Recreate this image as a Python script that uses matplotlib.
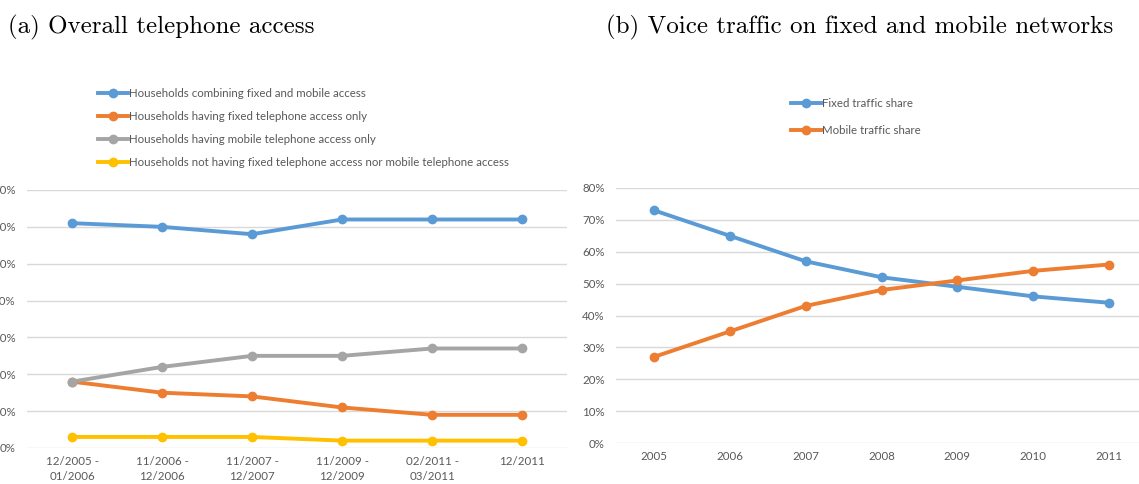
import matplotlib
matplotlib.use("Agg")
import matplotlib.pyplot as plt
from matplotlib.ticker import PercentFormatter

# panel (a) data
periods = ["12/2005 -\n01/2006", "11/2006 -\n12/2006", "11/2007 -\n12/2007",
           "11/2009 -\n12/2009", "02/2011 -\n03/2011", "12/2011"]
both = [61, 60, 58, 62, 62, 62]
fixed_only = [18, 15, 14, 11, 9, 9]
mobile_only = [18, 22, 25, 25, 27, 27]
neither = [3, 3, 3, 2, 2, 2]
labels_a = ["Households combining fixed and mobile access",
            "Households having fixed telephone access only",
            "Households having mobile telephone access only",
            "Households not having fixed telephone access nor mobile telephone access"]

# panel (b) data
years = ["2005", "2006", "2007", "2008", "2009", "2010", "2011"]
fixed_share = [73, 65, 57, 52, 49, 46, 44]
mobile_share = [27, 35, 43, 48, 51, 54, 56]
labels_b = ["Fixed traffic share", "Mobile traffic share"]

colors = ["#5b9bd5", "#ed7d31", "#a5a5a5", "#ffc000"]
txt = "#595959"
plt.rcParams['font.family'] = ['Lato', 'DejaVu Sans']

fig = plt.figure(figsize=(11.39, 4.84), dpi=100)

def style(ax, top):
    ax.set_ylim(0, top)
    ax.set_yticks(range(0, top + 1, 10))
    ax.yaxis.set_major_formatter(PercentFormatter(decimals=0))
    ax.grid(axis='y', color='#d9d9d9', linewidth=1)
    ax.set_axisbelow(True)
    for s in ax.spines.values():
        s.set_visible(False)
    ax.tick_params(length=0, labelsize=8.3, colors=txt)
    ax.tick_params(axis='y', pad=8)
    ax.tick_params(axis='x', pad=6)

# (a)
ax1 = fig.add_axes([27/1139, 36/484, 540/1139, 258/484])
x1 = range(len(periods))
h = []
for vals, c, lab in zip([both, fixed_only, mobile_only, neither], colors, labels_a):
    h += ax1.plot(x1, vals, color=c, lw=2.8, marker='o', ms=6, label=lab)
ax1.set_xticks(list(x1))
ax1.set_xticklabels(periods, linespacing=1.4)
ax1.set_xlim(-0.5, len(periods) - 0.5)
style(ax1, 70)
fig.legend(handles=h, loc='upper left', bbox_to_anchor=(98/1139, 1 - 88/484),
           frameon=False, fontsize=8.3, labelcolor=txt, handlelength=2.6,
           handletextpad=0.1, labelspacing=1.05, borderpad=0, borderaxespad=0)

# (b)
ax2 = fig.add_axes([616/1139, 41/484, 531/1139, 255/484])
x2 = range(len(years))
h2 = []
for vals, c, lab in zip([fixed_share, mobile_share], colors[:2], labels_b):
    h2 += ax2.plot(x2, vals, color=c, lw=2.8, marker='o', ms=6, label=lab)
ax2.set_xticks(list(x2))
ax2.set_xticklabels(years)
ax2.set_xlim(-0.5, len(years) - 0.5)
style(ax2, 80)
fig.legend(handles=h2, loc='upper left', bbox_to_anchor=(791/1139, 1 - 98/484),
           frameon=False, fontsize=8.3, labelcolor=txt, handlelength=2.6,
           handletextpad=0.1, labelspacing=1.35, borderpad=0, borderaxespad=0)

fig.text(8/1139, 1 - 27/484, "(a) Overall telephone access", family='cmr10',
         fontsize=18, va='center', ha='left')
fig.text(606/1139, 1 - 27/484, "(b) Voice traffic on fixed and mobile networks",
         family='cmr10', fontsize=18, va='center', ha='left')

fig.savefig("out.png", dpi=100)
